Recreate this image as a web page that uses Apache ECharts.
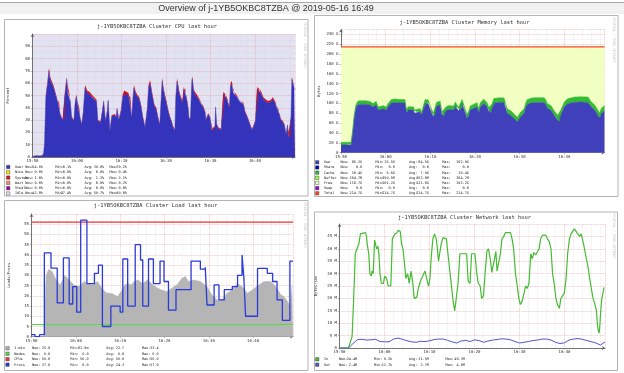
<!DOCTYPE html>
<html><head><meta charset="utf-8">
<script src="https://cdn.jsdelivr.net/npm/echarts@6/dist/echarts.min.js"></script>
<style>html,body{margin:0;padding:0;background:#fff}#c{width:624px;height:373px}</style>
</head><body><div id="c"></div>
<script>
// ---------- text ----------
const mainTitle = 'Overview of j-1YB5OKBC8TZBA @ 2019-05-16 16:49';
const panelTitles = ['j-1YB5OKBC8TZBA Cluster CPU last hour', 'j-1YB5OKBC8TZBA Cluster Memory last hour',
  'j-1YB5OKBC8TZBA Cluster Load last hour', 'j-1YB5OKBC8TZBA Cluster Network last hour'];
const axisNames = ['Percent', 'Bytes', 'Loads/Procs', 'Bytes/sec'];
const xTickLabels = ['15:50', '16:00', '16:10', '16:20', '16:30', '16:40'];
const watermark = 'RRDTOOL / TOBI OETIKER';

// ---------- CPU (minutes after 15:50) ----------
const cpuTime = [0,0.8,1.5,2.2,2.5,2.7,3.0,3.4,3.7,4.0,
 4.3,4.75,5.3,5.65,6.0,6.25,6.8,7.15,7.35,7.7,
 7.9,8.3,8.5,8.8,9.3,9.56,9.86,10.2,10.5,10.8,
 11.05,11.4,11.8,12.3,12.8,13.5,13.9,14.4,14.7,15.3,
 15.7,16.0,16.4,16.8,17.0,17.4,17.8,18.5,18.8,19.0,
 19.4,19.9,20.3,20.6,21.0,21.6,22.0,22.3,22.6,22.8,
 23.2,23.6,24.0,24.4,24.8,25.3,25.8,26.1,26.45,26.8,
 27.4,27.8,28.2,28.6,29.15,29.4,29.8,30.1,30.5,30.9,
 31.3,31.6,32.0,32.2,32.5,33.0,33.3,33.7,34.0,34.3,
 34.6,35.0,35.2,35.5,35.8,35.95,36.2,36.5,36.9,37.3,
 37.6,38.0,38.4,38.8,39.0,39.2,39.5,39.9,40.3,40.6,
 41.0,41.15,41.4,41.8,42.4,42.9,43.3,43.6,44.0,44.25,
 44.5,44.8,45.1,45.5,45.9,46.3,46.6,47.0,47.4,47.8,
 48.2,48.5,48.9,49.3,49.6,50.1,50.5,50.9,51.3,51.9,
 52.5,53.0,53.6,54.0,54.5,54.9,55.3,55.5,55.8,56.3,
 56.6,57.0,57.3,57.5,57.9,58.1,58.3,58.5,58.8,59.0];
const cpuUser = [0.5,1.0,0.8,1.0,3,11,49,60,70,62,
 60,56,49,45,44,34,30,30,53,63,
 52,51,45,32,29,43,49,41,40,30,
 26,36,56,52,51,48,47,45,29,28,
 37,45,29,37,46,21,33,34,32,39,
 30,37,49,52,51,50,49,32,49,56,
 51,49,47,41,32,24,39,57,60,52,
 41,39,32,26,62,55,48,44,37,32,
 28,24,21.5,48,61.6,51,48,44,55,56,
 48,39,30,32,61,63,53.5,51,49,47,
 45,44,40,36,30,32,34.5,32,22,21,
 24,40.5,26,23,22,51,52,48,42.6,40,
 57.5,59.4,52,51,49,48,45,45,42.6,36,
 33,30,26,22,24,29,55,55.6,52,47,
 45,44,45,47,44,40,39,34.5,30,28,
 26,18,26,15.5,14,32,63,60,56,54.6];
const cpuSystem = [0.2,0.2,0.2,0.2,0.5,1,2,2,2.5,2.5,
 2,2,1.5,1.5,1.5,1,1,1,2,2.5,
 2,2,1.5,1,1,1.5,2,1.5,1.5,1,
 1,1.5,2.5,2,2,2,1.5,1.5,1,1,
 1.5,1.5,1,1.5,1.5,1,1,1,1,1.5,
 1,1.5,2,2,2,2,1.5,1,1.5,2.5,
 2,1.5,1.5,1.5,1,1,1.5,2,2.5,2,
 1.5,1.5,1,1,2.5,2,2,1.5,1.5,1,
 1,1,1,1.5,2.5,2,1.5,1.5,2,2,
 1.5,1.5,1,1,2.5,2.5,2,2,2,1.5,
 1.5,1.5,1.5,1,1,1,1,1,1,1,
 1,1.5,1,1,1,2,2,1.5,1.5,1.5,
 2.5,2.5,2,2,1.5,1.5,1.5,1.5,1.5,1,
 1,1,1,1,1,1,2,2.5,2,1.5,
 1.5,1.5,1.5,1.5,1.5,1.5,1.5,1,1,1,
 1,1,1,1,1,1,2.5,2,1.5,1];

// ---------- Memory (GB) ----------
const memTime = [0,1.0,2.25,2.4,2.6,2.95,3.3,3.8,4.5,5.5,
 6.5,7.1,7.5,7.9,8.3,8.6,9.0,9.5,10.2,10.5,
 11.3,12.0,13.2,14.3,14.7,15.0,16.2,16.5,16.9,17.7,
 18.0,18.4,18.8,19.2,19.5,19.9,20.3,20.7,21.05,21.4,
 21.8,22.2,22.6,22.9,23.7,24.4,25.2,25.6,25.9,26.3,
 26.7,27.1,27.4,28.2,28.6,28.9,29.7,30.5,30.8,31.2,
 32.0,32.7,33.1,33.5,33.8,34.2,34.6,35.5,36.5,36.8,
 37.2,38.0,38.7,39.5,40.2,41.0,41.4,41.7,42.5,43.2,
 44.3,45.5,45.9,46.2,47.0,47.7,48.5,48.9,49.2,50.0,
 50.8,51.5,52.3,53.8,55.3,55.6,56.0,56.8,57.5,57.9,
 58.3,59.0];
const memUse = [15.5,15.5,15.5,17,39,70,90,98,98.5,98.5,
 97,93,97,97,86.5,88,88,89,86,93,
 101,102,101,101,80,86.5,86.5,80,83,83,
 76,86.5,100,102,100,100,80,73,76,95,
 98,97,76,73,86.5,88,86.5,95,93,84,
 86.5,100,97,70,76,86.5,90,93,80,93,
 100,93,83,80,90,101,102,102.5,102,100,
 80,76,70,63,73,80,93,98,101,102,
 102,102,97,90,86.5,76,66,63,76,93,
 100,101,102.5,102.9,102.5,100,93,86.5,76,70,
 80,85.2];
const memCache = [5.6,5.6,5.6,5.6,5.8,6,6.5,7,7,7,
 7,7,7,7,6.5,6.5,6.5,6.5,6.5,6.5,
 7,7,7,7,6.5,6.5,6.5,6.5,6.5,6.5,
 6.5,7,7.5,7.5,7.5,7.5,7.5,7.5,7.5,7.5,
 7.5,7.5,7.5,7.5,8,8,8,8,8,8,
 8,8,8,8,8,8,8.5,8.5,8.5,8.5,
 8.5,8.5,8.5,8.5,8.5,9,9,9,9,9,
 9,9,9,9,9,9,9.5,9.5,9.5,9.5,
 9.5,9.5,9.5,9.5,9.5,9.5,10,10,10,10,
 10,10,10.4,10.4,10.4,10.4,10.4,10.4,10.4,10.4,
 10.4,10.4];
const memTotalTime = [0, 59];
const memTotal = [214.7, 214.7];

// ---------- Load ----------
const loadTime = [0,2.8,3.0,3.3,3.9,4.7,5.0,5.6,6.4,6.9,
 7.5,8.1,8.8,9.6,10.7,11.9,12.6,13.7,14.9,15.6,
 16.8,18.3,19.4,20.2,21.0,21.7,22.5,23.2,24.0,25.1,
 26.2,27.4,28.5,29.4,30.5,31.6,32.8,33.9,34.7,35.4,
 36.6,38.1,39.6,40.7,41.9,43.0,44.1,45.3,46.4,47.5,
 48.7,49.8,51.3,52.5,54.0,55.1,56.3,57.0,57.8,58.4,
 58.8,59.0];
const loadOne = [0.1,0.1,15,30,33,31.8,30,27.7,25.3,27,
 30,28.5,27,25.3,24.5,27,26,25.3,27,24.5,
 21.5,21,19.6,22,25.3,26,25.3,27,27.7,26,
 27.7,25.3,23.7,22.8,22,23.7,25.3,28.5,29.4,27,
 27.7,27,24.5,20.4,18,18,21.2,22.8,26,24.5,
 21.2,22.8,25.3,27,27,24.5,20.4,19.6,17,15,
 25.3,25];
const procTime = [0,0.8,1.8,2.9,4.4,5.8,7.2,8.5,9.3,10.2,
 11.1,12.5,14.2,15.1,16.0,17.9,20.0,20.6,21.7,23.4,
 24.6,25.1,26.4,27.5,29.0,29.9,30.9,32.6,36.0,38.1,
 39.2,39.6,41.2,42.3,43.5,45.3,46.5,47.5,47.9,48.3,
 51.0,53.2,54.4,55.4,56.6,58.3,59.0];
const procs = [1,0,1,41,33.5,16.5,38.5,16,24.5,12,
 57,26,31,35,5,15,12,38,15,45,
 37.5,15,38,26,37,27,13,23,37,33,
 34,15.5,25.3,18,23,24.5,30,40,29,10,
 33.4,31,27,18,8,37,37];
const constTime = [0, 59];
const loadNodes = [6, 6];
const loadCpus = [56, 56];

// ---------- Network (MB/s) ----------
const netInTime = [0,2.0,2.25,2.8,3.15,3.5,3.9,4.3,4.65,5.0,
 5.75,6.0,6.15,6.5,6.75,7.05,7.25,7.5,7.8,8.25,
 8.55,8.75,9.0,9.3,9.75,10.05,10.5,10.8,11.4,11.75,
 12.3,12.75,13.05,13.5,13.8,14.1,14.4,14.75,15.15,15.5,
 15.9,16.25,16.6,17.2,17.5,18.0,18.5,19.0,19.5,19.8,
 20.1,20.4,20.75,21.1,21.5,21.7,22.0,22.25,22.6,23.0,
 23.35,23.75,24.1,24.7,25.25,25.6,26.0,26.35,26.75,28.25,
 28.6,29.0,29.35,30.1,30.5,30.85,31.25,31.6,32.0,32.35,
 32.75,33.1,33.5,33.85,34.25,34.45,34.75,35.0,35.35,35.75,
 36.1,36.5,36.85,38.0,38.35,38.7,39.1,39.5,39.85,40.2,
 40.6,41.0,41.35,41.7,42.1,42.5,42.85,43.2,43.6,44.0,
 44.35,44.7,45.1,45.85,46.2,46.6,47.0,47.35,47.7,48.1,
 48.45,48.85,49.2,49.6,49.95,50.35,50.7,51.1,51.45,51.85,
 52.2,52.6,52.95,53.35,53.7,54.1,54.45,54.85,55.2,55.6,
 55.95,56.35,56.7,57.1,57.3,57.5,57.7,57.85,58.05,58.3,
 58.6,58.8];
const netIn = [0,0,0.5,4.7,20,38,40,42,46,46.5,
 46.5,45,42,38,30,29,31,30,43.5,40,
 41,38,30,26,26,29,28,25,25,44,
 46,46.5,47.5,47,42,40,35,28,30,26,
 31,27,20,20.5,24,27,29,31,27,25,
 28,37,44,46,44,41,35,38,42,44.5,
 45,44,38,28,19,15,15,26,38,38,
 27,26,38,38,30,26,25,20,21,30,
 39,40,36,30.5,31,36,39,31,31,38,
 44,45,46.5,46.5,44,40,30,25,20,17.5,
 19,22,25,24,26,38,36,38.5,37.5,37,
 40,44,45.5,45.5,44,43,40,30,26,20,
 17.5,16,20,20.5,22,28,38,44,46,46.5,
 48,47.5,46,45,46,43,40,36,33,28,
 24,20,18,15,10,7,6,9,15,20,
 20,24.4];
const netOutTime = [0,1,2,3,4,5,6,7,8,9,10,11,12,13,14,15,16,17,18,19,
 20,21,22,23,24,25,26,27,28,29,30,31,32,33,34,35,36,37,38,39,
 40,41,42,43,44,45,46,47,48,49,50,51,52,53,54,55,56,57,58,59];
const netOut = [0,0,0,1.8,3.4,3.5,3.2,3.3,3.5,2.6,
 2.5,2.5,3.6,4.0,3.5,2.9,2.5,2.3,2.7,2.6,
 2.9,3.4,3.6,3.6,3.1,2.5,2.0,2.8,3.1,2.6,
 3.3,3.0,2.3,2.8,3.2,3.4,3.7,3.6,3.3,2.6,
 2.0,2.3,2.6,3.0,3.2,3.6,3.6,3.2,2.3,1.8,
 2.1,3.2,3.6,3.8,3.5,3.0,2.5,2.0,1.2,2.4];

// ---------- legends ----------
const cpuLegendNames = ['User','Nice','System','Wait','Steal','Idle'];
const cpuLegendStats = [['54.6%','0.1%','39.0%','70.2%'],['0.0%','0.0%','0.0%','0.4%'],['1.0%','0.0%','1.2%','3.1%'],
 ['0.0%','0.0%','0.0%','0.2%'],['0.0%','0.0%','0.0%','0.0%'],['43.8%','27.4%','59.7%','99.0%']];
const memLegendNames = ['Use','Share','Cache','Buffer','Free','Swap','Total'];
const memLegendStats = [['85.2G','15.5G','84.5G','102.9G'],['0.0','0.0','0.0','0.0'],['10.4G','5.6G','7.9G','10.4G'],
 ['364.7M','359.5M','362.0M','364.7M'],['118.7G','101.2G','121.0G','193.2G'],['0.0','0.0','0.0','0.0'],
 ['214.7G','214.7G','214.7G','214.7G']];
const loadLegendNames = ['1-min','Nodes','CPUs','Procs'];
const loadLegendStats = [['25.0','81.5m','22.7','33.4'],['6.0','6.0','6.0','6.0'],['56.0','56.0','56.0','56.0'],['37.0','0.0','24.3','57.0']];
const netLegendNames = ['In','Out'];
const netLegendStats = [['24.4M','9.3k','31.5M','48.3M'],['2.4M','12.7k','2.7M','4.0M']];
const statLabels = ['Now:','Min:','Avg:','Max:'];

// ---------- build ----------
const MONO = '"DejaVu Sans Mono", monospace';
// [value, time] pairs; encode maps column 1 to x and column 0 to y so stacking happens on the value
const pairs = (ts, vs) => ts.map((t, i) => [vs[i], t]);

const grids = [
  {left: 32.5, top: 34, width: 262.5, height: 123, show: true, backgroundColor: '#e2e2f2', borderWidth: 0},
  {left: 341, top: 29.5, width: 263.5, height: 123.2},
  {left: 31.5, top: 214, width: 261.5, height: 122.7},
  {left: 339.5, top: 224, width: 265.5, height: 124}
];

function xAx(gi) {
  return {type: 'value', gridIndex: gi, min: 0, max: 59, interval: 10,
    axisLine: {show: true, onZero: false, lineStyle: {color: '#555', width: 0.8}, symbol: ['none', 'arrow'], symbolSize: [3, 3]},
    axisTick: {show: true, length: 1.5, lineStyle: {color: '#777', width: 0.5}},
    axisLabel: {fontSize: 4, color: '#333', margin: 2, fontFamily: MONO, showMaxLabel: false,
      formatter: v => (v % 10 === 0 && xTickLabels[v / 10] !== undefined) ? xTickLabels[v / 10] : ''},
    splitLine: {show: true, lineStyle: {color: '#e4a0a0', width: 0.6, type: 'dotted'}},
    minorTick: {show: false, splitNumber: 5},
    minorSplitLine: {show: true, lineStyle: {color: '#d6d6d6', width: 0.5, type: 'dotted'}}
  };
}
function yAx(gi, max, interval, fmt, name, gap, minor) {
  return {type: 'value', gridIndex: gi, min: 0, max: max, interval: interval,
    name: name, nameLocation: 'middle', nameRotate: 90, nameGap: gap,
    nameTextStyle: {fontSize: 3.8, fontFamily: MONO, color: '#333'},
    axisLine: {show: true, lineStyle: {color: '#555', width: 0.8}, symbol: ['none', 'arrow'], symbolSize: [3, 3]},
    axisTick: {show: true, length: 1.5, lineStyle: {color: '#777', width: 0.5}},
    axisLabel: {fontSize: 4, color: '#333', margin: 2.5, fontFamily: MONO, showMaxLabel: false, formatter: fmt},
    splitLine: {show: true, lineStyle: {color: '#e4a0a0', width: 0.6, type: 'dotted'}},
    minorTick: {show: false, splitNumber: minor || 2},
    minorSplitLine: {show: !!minor, lineStyle: {color: '#d6d6d6', width: 0.5, type: 'dotted'}}
  };
}

function buildLegend(names, stats, cfg) {
  const fs = 3.5, cw = fs * 0.602;
  const lens = [0, 1, 2, 3].map(k => Math.max(...stats.map(r => r[k].length)));
  const vStart = cfg.ends.map((e, k) => e - lens[k] * cw);
  const base = {fontFamily: MONO, fontSize: fs, lineHeight: cfg.rowH, color: '#222'};
  const rich = {n: Object.assign({}, base, {width: cfg.labels[0] - cfg.textStart})};
  for (let k = 0; k < 4; k++) {
    rich['l' + k] = Object.assign({}, base, {width: Math.max(1, vStart[k] - cfg.labels[k])});
    rich['v' + k] = Object.assign({}, base, {width: Math.max(1, (k < 3 ? cfg.labels[k + 1] : cfg.ends[k] + 1) - vStart[k])});
  }
  const iw = 3.4;
  return {
    orient: 'vertical', left: cfg.textStart - 5 - iw, top: cfg.firstRow - cfg.rowH / 2, padding: 0, itemGap: 0,
    itemWidth: iw, itemHeight: iw, icon: 'rect', selectedMode: false, data: names,
    itemStyle: {borderColor: '#333', borderWidth: 0.4},
    textStyle: Object.assign({}, base, {rich: rich}),
    formatter: name => {
      const r = stats[names.indexOf(name)];
      let s = '{n|' + name + '}';
      for (let k = 0; k < 4; k++) s += '{l' + k + '|' + statLabels[k] + '}{v' + k + '|' + r[k].padStart(lens[k]) + '}';
      return s;
    }
  };
}

const legends = [
  buildLegend(cpuLegendNames, cpuLegendStats, {textStart: 14.7, labels: [25, 55, 84.3, 109.3], ends: [42.7, 71, 104, 126.7], firstRow: 167, rowH: 5.3}),
  buildLegend(memLegendNames, memLegendStats, {textStart: 323.7, labels: [340.3, 375.3, 408.7, 442], ends: [362, 394.7, 428.7, 468.7], firstRow: 162.3, rowH: 5.17}),
  buildLegend(loadLegendNames, loadLegendStats, {textStart: 14, labels: [31.7, 70, 106, 141.7], ends: [50, 88.3, 124, 158.3], firstRow: 348.3, rowH: 5.45}),
  buildLegend(netLegendNames, netLegendStats, {textStart: 323.7, labels: [338.7, 373.7, 408.7, 445.3], ends: [357, 392, 428.7, 464.7], firstRow: 359.3, rowH: 5.4})
];

const ENC = {x: 1, y: 0};
function area(name, gi, data, color, stack, lw) {
  return {name: name, type: 'line', xAxisIndex: gi, yAxisIndex: gi, stack: stack, symbol: 'none', data: data, encode: ENC, color: color,
    lineStyle: {width: lw === undefined ? 0.5 : lw, color: color}, areaStyle: {color: color, opacity: 1}, emphasis: {disabled: true}, silent: true};
}
function line(name, gi, data, color, width, step) {
  return {name: name, type: 'line', xAxisIndex: gi, yAxisIndex: gi, symbol: 'none', data: data, encode: ENC, color: color, step: step || false,
    lineStyle: {width: width, color: color}, emphasis: {disabled: true}, silent: true};
}

const series = [
  area('User', 0, pairs(cpuTime, cpuUser), '#3333bb', 'cpu', 0.4),
  area('System', 0, pairs(cpuTime, cpuSystem), '#dd1111', 'cpu', 0),
  line('Nice', 0, [], '#ffea00', 1),
  line('Wait', 0, [], '#ff8a60', 1),
  line('Steal', 0, [], '#990099', 1),
  line('Idle', 0, [], '#e2e2f2', 1),

  area('Free', 1, pairs(memTotalTime, memTotal), '#f1ffc2', undefined, 0),
  area('Use', 1, pairs(memTime, memUse), '#4040bb', 'mem'),
  area('Cache', 1, pairs(memTime, memCache), '#33bb33', 'mem'),
  line('Share', 1, [], '#0000aa', 1),
  line('Buffer', 1, [], '#99ff33', 1),
  line('Swap', 1, [], '#9900cc', 1),
  line('Total', 1, pairs(memTotalTime, memTotal), '#ff4422', 1.1),

  area('1-min', 2, pairs(loadTime, loadOne), '#b5b5b5'),
  line('Nodes', 2, pairs(constTime, loadNodes), '#55dd44', 1.1),
  line('CPUs', 2, pairs(constTime, loadCpus), '#ee3333', 1.2),
  line('Procs', 2, pairs(procTime, procs), '#2a3ad8', 1.3, 'end'),

  line('In', 3, pairs(netInTime, netIn), '#44bb33', 1.2),
  line('Out', 3, pairs(netOutTime, netOut), '#5555cc', 1)
];

function txt(text, x, y, font, fill, rot) {
  return {type: 'text', x: x, y: y, rotation: rot || 0, silent: true, z: 5,
    style: {text: text, x: 0, y: 0, align: 'center', verticalAlign: 'middle', font: font, fill: fill}};
}
function box(x, y, w, h) {
  return {type: 'rect', silent: true, z: -5, shape: {x: x, y: y, width: w, height: h},
    style: {fill: 'rgba(0,0,0,0)', stroke: '#b4b4b4', lineWidth: 1}};
}
const titleFont = '5.4px ' + MONO;
const wmFont = '3.4px ' + MONO;
const graphics = [
  {type: 'rect', silent: true, z: -10, shape: {x: 0, y: 3, width: 624, height: 11}, style: {fill: '#f1f1f1'}},
  {type: 'line', silent: true, z: -9, shape: {x1: 0, y1: 2.5, x2: 624, y2: 2.5}, style: {stroke: '#a8a8a8', lineWidth: 1}},
  txt(mainTitle, 266, 9, '9px "Liberation Sans", sans-serif', '#333'),
  box(4.5, 19.5, 303.5, 176.5),
  box(314.5, 15.5, 303.5, 181),
  box(4.5, 200.5, 303.5, 170),
  box(314.5, 212, 303, 158.5),
  txt(panelTitles[0], 157, 27, titleFont, '#333'),
  txt(panelTitles[1], 464.5, 22.3, titleFont, '#333'),
  txt(panelTitles[2], 155.5, 206, titleFont, '#333'),
  txt(panelTitles[3], 464.5, 217.3, titleFont, '#333'),
  txt(watermark, 305, 45, wmFont, '#c4c4c4', -Math.PI / 2),
  txt(watermark, 613.5, 40, wmFont, '#c4c4c4', -Math.PI / 2),
  txt(watermark, 305, 225, wmFont, '#c4c4c4', -Math.PI / 2),
  txt(watermark, 613.5, 236, wmFont, '#c4c4c4', -Math.PI / 2)
];

const chart = echarts.init(document.getElementById('c'));
chart.setOption({
  animation: false,
  backgroundColor: '#ffffff',
  textStyle: {fontFamily: MONO},
  grid: grids,
  xAxis: [xAx(0), xAx(1), xAx(2), xAx(3)],
  yAxis: [
    yAx(0, 100, 10, v => String(v), axisNames[0], 22, 2),
    yAx(1, 250, 20, v => (v % 20 === 0 ? (v === 0 ? '0' : v + ' G') : ''), axisNames[1], 20, 2),
    yAx(2, 60, 5, v => String(v), axisNames[2], 20),
    yAx(3, 50, 5, v => (v === 0 ? '0' : v + ' M'), axisNames[3], 21)
  ],
  legend: legends,
  series: series,
  graphic: {elements: graphics}
});
</script></body></html>
